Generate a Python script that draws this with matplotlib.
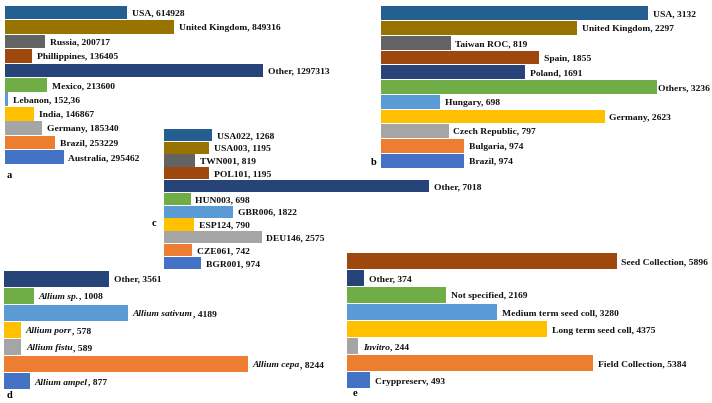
import matplotlib
matplotlib.use("Agg")
import matplotlib.pyplot as plt

# Excel-style series colours, listed from the bottom bar upwards
PALETTE = ["#4472C4", "#ED7D31", "#A5A5A5", "#FFC000", "#5B9BD5", "#70AD47",
           "#264478", "#9E480E", "#636363", "#997300", "#255E91"]

# panel a (top to bottom)
a_names = ["USA", "United Kingdom", "Russia", "Phillippines", "Other", "Mexico",
           "Lebanon", "India", "Germany", "Brazil", "Australia"]
a_values = [614928, 849316, 200717, 136405, 1297313, 213600, 15236, 146867,
            185340, 253229, 295462]
a_printed = ["614928", "849316", "200717", "136405", "1297313", "213600",
             "152,36", "146867", "185340", "253229", "295462"]

# panel b
b_names = ["USA", "United Kingdom", "Taiwan ROC", "Spain", "Poland", "Others",
           "Hungary", "Germany", "Czech Republic", "Bulgaria", "Brazil"]
b_values = [3132, 2297, 819, 1855, 1691, 3236, 698, 2623, 797, 974, 974]

# panel c
c_names = ["USA022", "USA003", "TWN001", "POL101", "Other", "HUN003", "GBR006",
           "ESP124", "DEU146", "CZE061", "BGR001"]
c_values = [1268, 1195, 819, 1195, 7018, 698, 1822, 790, 2575, 742, 974]

# panel d
d_names = ["Other", "Allium sp.", "Allium sativum", "Allium porr", "Allium fistu",
           "Allium cepa", "Allium ampel"]
d_values = [3561, 1008, 4189, 578, 589, 8244, 877]
d_italic = [False, True, True, True, True, True, True]

# panel e
e_names = ["Seed Collection", "Other", "Not specified", "Medium term seed coll",
           "Long term seed coll", "Invitro", "Field Collection", "Cryppreserv"]
e_values = [5896, 374, 2169, 3280, 4375, 244, 5384, 493]
e_italic = [False, False, False, False, False, True, False, False]

plt.rcParams["font.family"] = "Liberation Serif"

W, H = 712, 403
FS = 6.8
GAP = 3.4          # points between bar end and label
DROP = -2.3        # baseline shift so text sits centred on the bar
fig = plt.figure(figsize=(W / 100, H / 100), dpi=100)
labels = []


def panel(x0, x1, y0, y1, names, values, printed=None, italic=None):
    # pixel box of the bars -> figure fraction
    ax = fig.add_axes([x0 / W, 1 - y1 / H, (x1 - x0) / W, (y1 - y0) / H])
    n = len(values)
    ys = list(range(n - 1, -1, -1))
    cols = [PALETTE[n - 1 - j] for j in range(n)]
    ax.barh(ys, values, height=0.94, color=cols, edgecolor="none")
    for j in range(n):
        val = printed[j] if printed else str(values[j])
        kw = dict(ha="left", va="baseline", fontsize=FS, fontweight="bold",
                  color="#111111", annotation_clip=False,
                  textcoords="offset points")
        if italic and italic[j]:
            t1 = ax.annotate(names[j], (values[j], ys[j]), xytext=(GAP, DROP),
                             style="italic", **kw)
            t2 = ax.annotate(", " + val, (values[j], ys[j]), xytext=(GAP, DROP), **kw)
            labels.append([t1, t2])
        else:
            t1 = ax.annotate(names[j] + ", " + val, (values[j], ys[j]),
                             xytext=(GAP, DROP), **kw)
            labels.append([t1])
    ax.set_xlim(0, max(values))
    ax.set_ylim(-0.5, n - 0.5)
    ax.axis("off")
    return ax


panel(5, 263, 5.3, 164.3, a_names, a_values, printed=a_printed)
panel(380.7, 657, 6, 168, b_names, b_values)
panel(164.3, 429.3, 128.5, 269.3, c_names, c_values)
panel(4, 248, 270, 390, d_names, d_values, italic=d_italic)
panel(347.3, 616.7, 252.7, 389, e_names, e_values, italic=e_italic)

for lab, px, py in [("a", 7, 175), ("b", 371, 163), ("c", 152, 224),
                    ("d", 7, 396), ("e", 353, 394)]:
    fig.text(px / W, 1 - py / H, lab, fontsize=7.5, fontweight="bold",
             va="center", ha="left")

fig.canvas.draw()
r = fig.canvas.get_renderer()
# put the upright value right after the italic name
for grp in labels:
    if len(grp) == 2:
        w = grp[0].get_window_extent(r).width * 72 / 100
        grp[1].xyann = (GAP + w, DROP)
fig.canvas.draw()
# pull labels that run past the right edge back inside the figure
for grp in labels:
    right = grp[-1].get_window_extent(r).x1
    if right > W - 2:
        shift = (right - W + 2) * 72 / 100
        for t in grp:
            ox, oy = t.xyann
            t.xyann = (ox - shift, oy)

fig.savefig("out.png", dpi=100)
